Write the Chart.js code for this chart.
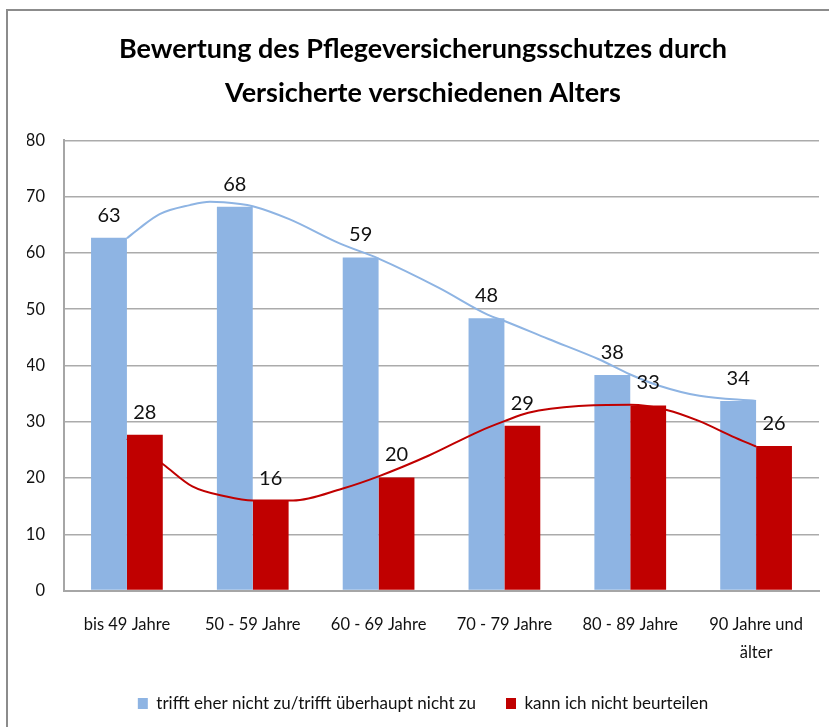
<!DOCTYPE html>
<html>
<head>
<meta charset="utf-8">
<script src="https://cdn.jsdelivr.net/npm/chart.js@4"></script>
<style>
  body { margin: 0; background: #fff; }
  #frame { position: absolute; left: 6px; top: 9px; width: 900px; height: 800px;
           border: 2px solid #8c8c8c; pointer-events: none; }
  #wrap { position: absolute; left: 0; top: 0; width: 829px; height: 727px; }
</style>
</head>
<body>
<div id="wrap"><canvas id="chart" width="829" height="727"></canvas></div>
<div id="frame"></div>
<script>
// categories and values
const categories = ['bis 49 Jahre', '50 - 59 Jahre', '60 - 69 Jahre', '70 - 79 Jahre', '80 - 89 Jahre', ['90 Jahre und', 'älter']];
const seriesNames = ['trifft eher nicht zu/trifft überhaupt nicht zu', 'kann ich nicht beurteilen'];
const notApplies = [62.7, 68.2, 59.2, 48.4, 38.3, 33.7];
const cannotJudge = [27.7, 16.0, 20.1, 29.3, 32.9, 25.7];

// trend lines (x = category index)
const notAppliesTrend = [
    {x: 0, y: 62.6}, {x: 0.1, y: 64.4}, {x: 0.26, y: 66.9}, {x: 0.5, y: 68.5},
    {x: 0.66, y: 69.1}, {x: 0.9, y: 68.7}, {x: 1, y: 68.3}, {x: 1.29, y: 66.0},
    {x: 1.69, y: 61.7}, {x: 2, y: 59.0}, {x: 2.48, y: 53.8}, {x: 2.87, y: 49.0},
    {x: 3, y: 47.9}, {x: 3.35, y: 44.7}, {x: 3.75, y: 41.1}, {x: 4, y: 38.4},
    {x: 4.23, y: 36.4}, {x: 4.55, y: 34.6}, {x: 5, y: 33.7}
];
const cannotJudgeTrend = [
    {x: 0, y: 27.0}, {x: 0.29, y: 22.4}, {x: 0.52, y: 18.5}, {x: 0.79, y: 16.7},
    {x: 1, y: 16.0}, {x: 1.32, y: 16.0}, {x: 1.71, y: 18.1}, {x: 2, y: 20.3},
    {x: 2.4, y: 24.0}, {x: 2.8, y: 28.3}, {x: 3, y: 30.1}, {x: 3.19, y: 31.6},
    {x: 3.59, y: 32.8}, {x: 4, y: 33.0}, {x: 4.29, y: 32.1}, {x: 4.55, y: 30.1},
    {x: 4.81, y: 27.4}, {x: 5, y: 25.6}
];
const yTicks = [0, 10, 20, 30, 40, 50, 60, 70, 80];

const blue = '#8eb4e3';
const red = '#c00000';
const font = 'Lato';

// value labels above the bars
const barLabels = {
    id: 'barLabels',
    afterDatasetsDraw(chart) {
        const ctx = chart.ctx;
        ctx.save();
        ctx.font = '20px ' + font;
        ctx.fillStyle = '#111';
        ctx.textAlign = 'center';
        ctx.textBaseline = 'alphabetic';
        chart.data.datasets.forEach((ds, i) => {
            if (ds.type === 'line') return;
            chart.getDatasetMeta(i).data.forEach((bar, j) => {
                ctx.fillText(Math.round(ds.data[j]), bar.x, bar.y - 16);
            });
        });
        ctx.restore();
    }
};

const ctx = document.getElementById('chart').getContext('2d');
new Chart(ctx, {
    type: 'bar',
    data: {
        labels: categories,
        datasets: [
            {
                label: seriesNames[0],
                data: notApplies,
                backgroundColor: blue,
                order: 2
            },
            {
                label: seriesNames[1],
                data: cannotJudge,
                backgroundColor: red,
                order: 2
            },
            {
                // unparsed so the fractional x positions stay between categories
                type: 'line',
                data: notAppliesTrend,
                parsing: false,
                borderColor: blue,
                borderWidth: 2,
                pointRadius: 0,
                cubicInterpolationMode: 'monotone',
                order: 1
            },
            {
                type: 'line',
                data: cannotJudgeTrend,
                parsing: false,
                borderColor: red,
                borderWidth: 2,
                pointRadius: 0,
                cubicInterpolationMode: 'monotone',
                order: 1
            }
        ]
    },
    options: {
        responsive: false,
        animation: false,
        layout: { padding: { left: 27, right: 10, top: 0, bottom: 5 } },
        datasets: {
            bar: { categoryPercentage: 0.57, barPercentage: 1 }
        },
        scales: {
            x: {
                grid: { display: true, drawOnChartArea: false, drawTicks: false },
                border: { display: true, color: '#a6a6a6', width: 2 },
                afterFit: (scale) => { scale.height -= 22; },
                ticks: {
                    color: '#111',
                    padding: 21,
                    maxRotation: 0,
                    font: { family: font, size: 16.5, lineHeight: 1.65 }
                }
            },
            y: {
                min: 0,
                max: 80,
                afterBuildTicks: (scale) => { scale.ticks = yTicks.map(v => ({ value: v })); },
                afterFit: (scale) => { scale.width = 37; },
                grid: { color: '#ababab', lineWidth: 1.5, drawTicks: false },
                border: { display: true, color: '#a6a6a6', width: 2 },
                ticks: {
                    color: '#111',
                    padding: 19,
                    font: { family: font, size: 16.5 }
                }
            }
        },
        plugins: {
            title: {
                display: true,
                text: ['Bewertung des Pflegeversicherungsschutzes durch', 'Versicherte verschiedenen Alters'],
                color: '#000',
                font: { family: font, size: 27, weight: 'bold', lineHeight: 1.6 },
                padding: { top: 28, bottom: 26 }
            },
            legend: {
                position: 'bottom',
                labels: {
                    color: '#111',
                    boxWidth: 10,
                    boxHeight: 11,
                    padding: 30,
                    font: { family: font, size: 17 },
                    filter: (item, data) => data.datasets[item.datasetIndex].type !== 'line'
                }
            },
            tooltip: { enabled: false }
        }
    },
    plugins: [barLabels]
});
</script>
</body>
</html>
